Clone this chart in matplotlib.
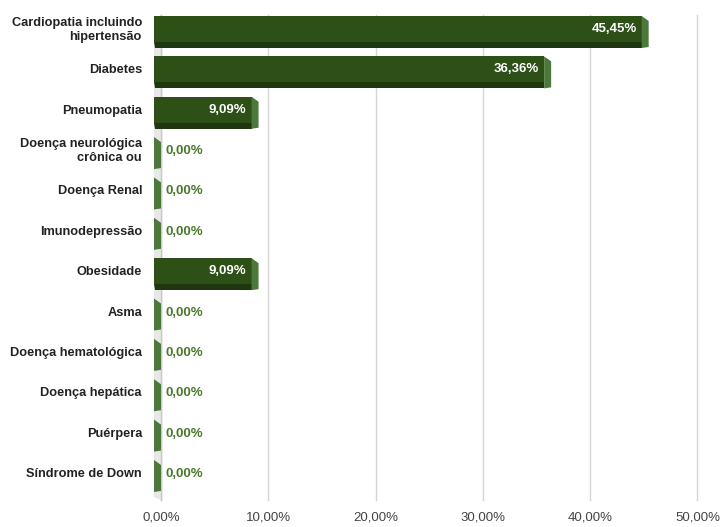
import matplotlib.pyplot as plt
from matplotlib.patches import Polygon

categorias = ['Cardiopatia incluindo\nhipertensão', 'Diabetes', 'Pneumopatia',
              'Doença neurológica\ncrônica ou', 'Doença Renal', 'Imunodepressão',
              'Obesidade', 'Asma', 'Doença hematológica', 'Doença hepática',
              'Puérpera', 'Síndrome de Down']
valores = [45.45, 36.36, 9.09, 0.0, 0.0, 0.0, 9.09, 0.0, 0.0, 0.0, 0.0, 0.0]
ticks = [0, 10, 20, 30, 40, 50]

W, H = 720, 527
fig = plt.figure(figsize=(W / 100, H / 100), dpi=100)
plt.rcParams['font.family'] = ['Liberation Sans', 'DejaVu Sans']

# axes placement in pixels
px_l, px_r, px_t, px_b = 140, 715, 0, 505
ax = fig.add_axes([px_l / W, 1 - px_b / H, (px_r - px_l) / W, (px_b - px_t) / H])

sx = 10.73   # px per 1 %
sy = 40.36   # px per row
x0px, y0px = 161, 30
ax.set_xlim((px_l - x0px) / sx, (px_r - x0px) / sx)
ax.set_ylim((px_b - y0px) / sy, (px_t - y0px) / sy)

def dx(p):
    return p / sx

def dy(p):
    return p / sy

frente = '#2d5016'
base = '#1e370f'
lado = '#4d783c'
verde_txt = '#4a7a2c'

# gridlines
g_top, g_bot = dy(15 - y0px), dy(500 - y0px)
for t in ticks:
    ax.plot([t, t], [g_top, g_bot], color='#d6d6d6', lw=1, zorder=1)

# left wall (3d)
parede = Polygon([(dx(-7), g_top + dy(5)), (0, g_top), (0, g_bot), (dx(-7), g_bot - dy(3))],
                 closed=True, facecolor='#e8e8e8', edgecolor='none', zorder=2)
ax.add_patch(parede)
ax.plot([0, 0], [g_top, g_bot], color='#c8c8c8', lw=1, zorder=2)

prof = dx(7)
for i, (cat, v) in enumerate(zip(categorias, valores)):
    top, fb, sb = i + dy(-14), i + dy(12), i + dy(18)
    fl, fr = -prof, v - prof
    if v > 0:
        ax.add_patch(Polygon([(fl, top), (fr, top), (fr, fb), (fl, fb)],
                             facecolor=frente, edgecolor='none', zorder=3))
        ax.add_patch(Polygon([(fl, fb), (fr, fb), (fr, sb), (fl + dx(1), sb)],
                             facecolor=base, edgecolor='none', zorder=3))
    ax.add_patch(Polygon([(fr, top), (fr + prof, top + dy(5)), (fr + prof, sb - dy(1)), (fr, sb)],
                         facecolor=lado, edgecolor='none', zorder=3))
    rot = ('%.2f%%' % v).replace('.', ',')
    if v > 5:
        ax.text(fr - dx(5), i - dy(1), rot, ha='right', va='center', color='white',
                fontsize=9.5, fontweight='bold', zorder=4)
    else:
        ax.text(dx(5), i, rot, ha='left', va='center', color=verde_txt,
                fontsize=9.5, fontweight='bold', zorder=4)
    ax.text(dx(142 - x0px), i, cat, ha='right', va='center', color='#222222',
            fontsize=9.2, fontweight='bold', linespacing=1.3)

ax.set_xticks(ticks)
ax.set_xticklabels([('%.2f%%' % t).replace('.', ',') for t in ticks], fontsize=9.5, color='#444444')
ax.tick_params(axis='x', length=0, pad=5)
ax.set_yticks([])
for s in ax.spines.values():
    s.set_visible(False)

fig.savefig('out.png', dpi=100)
